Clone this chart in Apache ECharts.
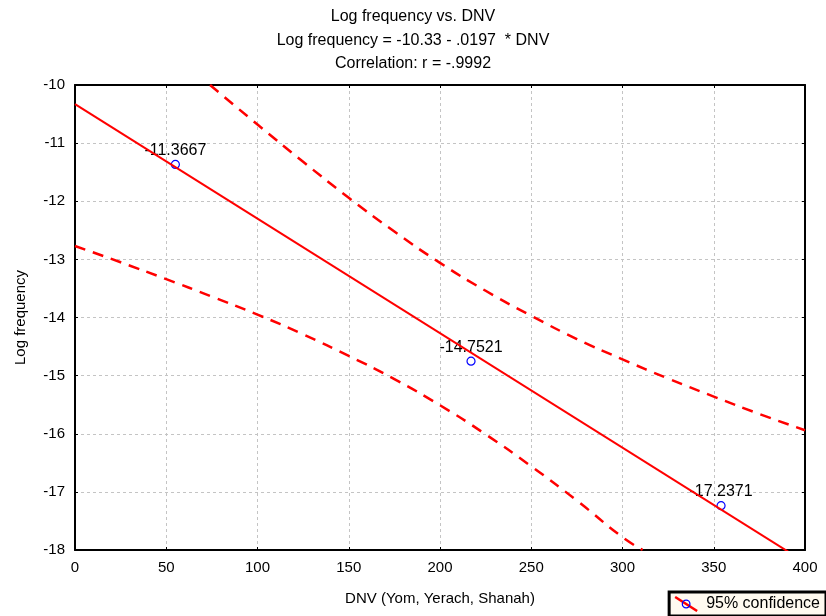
<!DOCTYPE html>
<html>
<head>
<meta charset="utf-8">
<script src="https://cdn.jsdelivr.net/npm/echarts@6/dist/echarts.min.js"></script>
<style>
  html, body { margin: 0; padding: 0; background: #fff; }
  #chart { width: 826px; height: 616px; }
</style>
</head>
<body>
<div id="chart"></div>
<script>
// Observations: DNV value and log frequency
const dnv = [55, 217, 354];
const logFreq = [-11.3667, -14.7521, -17.2371];

// Fitted line: Log frequency = -10.33 - .0197 * DNV
const fitX = [0, 400];
const fitY = [-10.33, -18.21];

// 95% confidence band, upper and lower edges
const upperX = [74, 100, 125, 150, 175, 200, 225, 250, 275, 300, 325, 350, 375, 400];
const upperY = [-10.0, -10.68, -11.32, -11.94, -12.52, -13.06, -13.54, -13.97, -14.37, -14.72, -15.05, -15.36, -15.66, -15.94];
const lowerX = [0, 25, 50, 75, 100, 125, 150, 175, 200, 225, 250, 275, 300, 311];
const lowerY = [-12.77, -13.05, -13.34, -13.64, -13.95, -14.29, -14.66, -15.06, -15.51, -16.01, -16.56, -17.15, -17.78, -18.0];

// Axis ranges
const xRange = [0, 400, 50];
const yRange = [-18, -10, 1];

const titleLines = ['Log frequency vs. DNV', 'Log frequency = -10.33 - .0197  * DNV', 'Correlation: r = -.9992'];
const bandName = '95% confidence';

const zip = (xs, ys) => xs.map((x, i) => [x, ys[i]]);
const FONT = 'Liberation Sans, Arial, sans-serif';

const legendIcon = 'image://data:image/svg+xml;utf8,' + encodeURIComponent(
  '<svg xmlns="http://www.w3.org/2000/svg" width="24" height="16">' +
  '<line x1="1" y1="1" x2="23" y2="15" stroke="#ff0000" stroke-width="2.5"/>' +
  '<circle cx="12" cy="8" r="3.8" fill="none" stroke="#0000ff" stroke-width="1.3"/></svg>');

const gridLine = { show: true, lineStyle: { color: '#c4c4c4', type: [3, 3], width: 1 } };
const frameLine = { show: true, onZero: false, lineStyle: { color: '#000', width: 2 } };
const innerTick = { show: true, inside: true, length: 3, lineStyle: { color: '#000', width: 1 } };

const chart = echarts.init(document.getElementById('chart'));
chart.setOption({
  backgroundColor: '#ffffff',
  animation: false,
  textStyle: { fontFamily: FONT },
  title: {
    text: titleLines.join('\n'),
    left: 'center',
    top: 0,
    textStyle: { fontFamily: FONT, fontSize: 16, fontWeight: 'normal', color: '#000', lineHeight: 23.5 }
  },
  grid: { left: 75, right: 21, top: 85, bottom: 66 },
  legend: {
    right: 0, bottom: 0,
    padding: [4, 6, 4, 5],
    backgroundColor: '#fffaf0',
    borderColor: '#000',
    borderWidth: 3,
    borderRadius: 0,
    itemWidth: 24, itemHeight: 16, itemGap: 4,
    icon: legendIcon,
    data: [bandName],
    textStyle: { fontFamily: FONT, fontSize: 16, color: '#000', padding: [0, 0, 0, 3] }
  },
  xAxis: [{
    type: 'value', min: xRange[0], max: xRange[1], interval: xRange[2],
    name: 'DNV (Yom, Yerach, Shanah)', nameLocation: 'middle', nameGap: 41,
    nameTextStyle: { fontFamily: FONT, fontSize: 15, color: '#000' },
    axisLine: frameLine,
    axisTick: innerTick,
    axisLabel: { fontFamily: FONT, fontSize: 15, color: '#000', margin: 10 },
    splitLine: gridLine
  }, {
    type: 'value', position: 'top', min: xRange[0], max: xRange[1], interval: xRange[2],
    axisLine: frameLine,
    axisTick: innerTick,
    axisLabel: { show: false }, splitLine: { show: false }
  }],
  yAxis: [{
    type: 'value', min: yRange[0], max: yRange[1], interval: yRange[2],
    name: 'Log frequency', nameLocation: 'middle', nameGap: 47, nameRotate: 90,
    nameTextStyle: { fontFamily: FONT, fontSize: 15, color: '#000' },
    axisLine: frameLine,
    axisTick: innerTick,
    axisLabel: { fontFamily: FONT, fontSize: 15, color: '#000', margin: 10 },
    splitLine: gridLine
  }, {
    type: 'value', position: 'right', min: yRange[0], max: yRange[1], interval: yRange[2],
    axisLine: frameLine,
    axisTick: innerTick,
    axisLabel: { show: false }, splitLine: { show: false }
  }],
  series: [
    {
      name: bandName, type: 'line', data: zip(upperX, upperY), smooth: true,
      showSymbol: false, clip: true, z: 3,
      lineStyle: { color: '#ff0000', width: 2.5, type: [11, 8] }
    },
    {
      name: bandName, type: 'line', data: zip(lowerX, lowerY), smooth: true,
      showSymbol: false, clip: true, z: 3,
      lineStyle: { color: '#ff0000', width: 2.5, type: [11, 8] }
    },
    {
      name: 'fit', type: 'line', data: zip(fitX, fitY),
      showSymbol: false, clip: true, z: 4,
      lineStyle: { color: '#ff0000', width: 2 }
    },
    {
      name: 'observed', type: 'scatter', data: zip(dnv, logFreq), z: 2,
      symbol: 'circle', symbolSize: 8,
      itemStyle: { color: 'transparent', borderColor: '#0000ff', borderWidth: 1.2, opacity: 1 },
      label: {
        show: true, position: 'top', distance: 1,
        formatter: p => String(p.value[1]),
        fontFamily: FONT, fontSize: 16, color: '#000', opacity: 1
      }
    }
  ]
});
</script>
</body>
</html>
